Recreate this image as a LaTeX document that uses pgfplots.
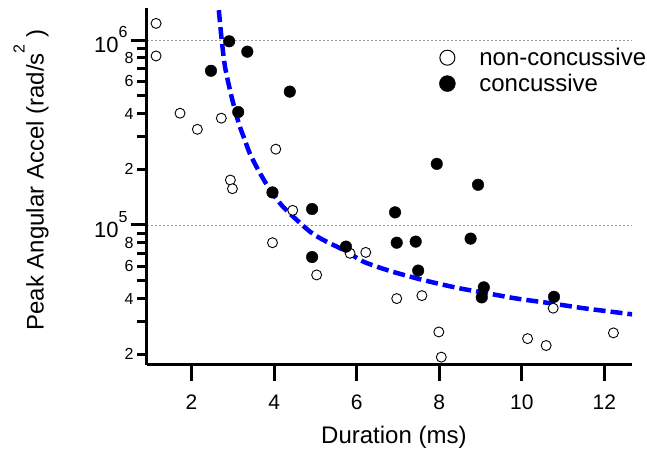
\documentclass[border=0pt]{standalone}
\usepackage{pgfplots}
\pgfplotsset{compat=1.18}
\usepackage{fontspec}
\setmainfont{Liberation Sans}

\newcommand{\fs}[1]{\fontsize{#1}{#1}\selectfont}
% decade labels 10^n and the small in-between labels
\newcommand{\dec}[1]{{\fs{22}10\raisebox{15pt}{\fs{16}#1}}}
\newcommand{\sm}[1]{{\fs{16}#1}}

\begin{document}
\begin{tikzpicture}
\path[use as bounding box] (-147pt,-86pt) rectangle (500pt,365pt);
\begin{axis}[
    scale only axis, width=485pt, height=357pt,
    at={(0pt,0pt)}, anchor=south west,
    xmin=0.92, xmax=12.67,
    ymode=log, ymin=1.75e4, ymax=1.49e6,
    axis lines*=left,
    axis line style={line width=3pt},
    tick align=outside,
    tick style={line width=3pt, black},
    major tick length=16pt,
    xtick={2,4,6,8,10,12},
    xticklabels={2,4,6,8,10,12},
    xticklabel style={font=\fs{21}, yshift=-10.5pt},
    ytick={1e5,1e6},
    yticklabels={\dec{5},\dec{6}},
    yminorticks=false,
    extra y ticks={2e4,3e4,4e4,5e4,6e4,7e4,8e4,9e4,2e5,3e5,4e5,5e5,6e5,7e5,8e5,9e5},
    extra y tick labels={\sm{2},,\sm{4},,\sm{6},,\sm{8},,\sm{2},,\sm{4},,\sm{6},,\sm{8},},
    extra y tick style={major tick length=10pt, grid=none},
    ymajorgrids,
    major grid style={black!40, line width=0.8pt, dash pattern=on 2pt off 2pt},
    xlabel={Duration (ms)},
    every axis x label/.style={at={(axis description cs:0.509,-0.2185)}, anchor=base, font=\fs{24}},
    ylabel={Peak Angular Accel (rad/s\raisebox{19pt}{\fs{16}2} )},
    every axis y label/.style={at={(axis description cs:-0.2134,0.518)}, anchor=base, rotate=90, font=\fs{24}},
    legend style={draw=none, fill=none, at={(axis description cs:0.588,0.899)},
                  anchor=north west, font=\fs{24}, row sep=3pt},
    legend cell align=left,
]
% fitted tolerance curve
\addplot[blue, line width=4.5pt, dash pattern=on 12pt off 5pt, smooth, no markers, forget plot]
  table {
    x      y
    2.62   1.79e6
    2.66   1.45e6
    2.73   1.0e6
    2.81   7.18e5
    2.93   5.37e5
    3.05   4.19e5
    3.17   3.40e5
    3.29   2.88e5
    3.41   2.44e5
    3.57   2.07e5
    3.78   1.71e5
    3.94   1.51e5
    4.18   1.28e5
    4.46   1.11e5
    4.87   9.2e4
    5.19   8.3e4
    5.76   7.18e4
    6.16   6.34e4
    6.81   5.64e4
    7.61   5.04e4
    8.42   4.58e4
    9.07   4.31e4
    9.88   4.00e4
    10.68  3.78e4
    11.49  3.55e4
    12.62  3.30e4
    12.75  3.27e4
  };
% non-concussive
\addplot[only marks, mark=*, mark size=5pt, mark options={fill=white, draw=black, line width=0.9pt}, forget plot]
  table {
    x      y
    1.14   1.23e6
    1.14   8.2e5
    1.72   4.02e5
    2.14   3.29e5
    2.72   3.78e5
    2.94   1.75e5
    2.99   1.57e5
    4.04   2.57e5
    4.45   1.20e5
    3.96   8.02e4
    5.03   5.37e4
    5.84   7.03e4
    6.22   7.11e4
    6.97   4.00e4
    7.58   4.15e4
    7.99   2.64e4
    8.05   1.93e4
    10.14  2.43e4
    10.59  2.23e4
    10.76  3.55e4
    12.22  2.61e4
  };
% concussive
\addplot[only marks, mark=*, mark size=5.8pt, mark options={fill=black, draw=black}, forget plot]
  table {
    x      y
    2.91   9.84e5
    3.35   8.65e5
    2.47   6.82e5
    4.38   5.26e5
    3.13   4.08e5
    3.96   1.50e5
    4.92   1.22e5
    4.92   6.71e4
    5.74   7.64e4
    6.93   1.17e5
    6.97   8.02e4
    7.43   8.13e4
    7.49   5.67e4
    8.76   8.44e4
    9.08   4.60e4
    9.03   4.06e4
    10.78  4.09e4
    7.94   2.14e5
    8.94   1.65e5
  };
\addlegendimage{legend image code/.code={
    \path[draw=none, fill=none] (0pt,-8pt) rectangle (42pt,8pt);
    \draw plot[only marks, mark=*, mark size=7.5pt, mark options={fill=white, draw=black, line width=1pt}] coordinates {(12pt,0pt)};}}
\addlegendentry{non-concussive}
\addlegendimage{legend image code/.code={
    \path[draw=none, fill=none] (0pt,-8pt) rectangle (42pt,8pt);
    \draw plot[only marks, mark=*, mark size=8pt, mark options={fill=black, draw=black}] coordinates {(12pt,0pt)};}}
\addlegendentry{concussive}
\end{axis}
\end{tikzpicture}
\end{document}
